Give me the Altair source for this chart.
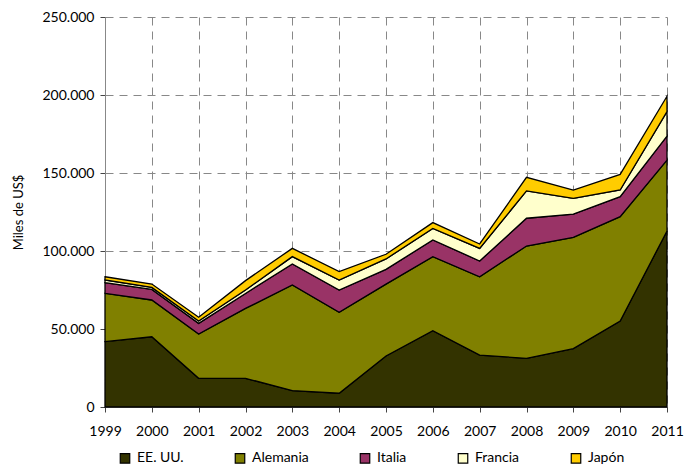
import altair as alt
import pandas as pd

years = list(range(1999, 2012))
series = ["EE. UU.", "Alemania", "Italia", "Francia", "Japón"]
colors = ["#333300", "#808000", "#993366", "#FFFFCC", "#FFCC00"]

ee_uu = [41900, 45000, 18400, 18400, 10500, 8800, 32700, 48900, 33300, 31200, 37400, 55100, 112800]
alemania = [31000, 23600, 28400, 44800, 67700, 51900, 46100, 47500, 50200, 72000, 71400, 66900, 45500]
italia = [6800, 6800, 6800, 9600, 13500, 14300, 9400, 10700, 10100, 17800, 14900, 12800, 15400]
francia = [1700, 1300, 1500, 2200, 4700, 6400, 6700, 7400, 8100, 17500, 10000, 4300, 15600]
japon = [2100, 2100, 2400, 6000, 5300, 5400, 3000, 3700, 2800, 8700, 5400, 10000, 9900]

values = [ee_uu, alemania, italia, francia, japon]
rows = []
for i, (name, vals) in enumerate(zip(series, values)):
    for y, v in zip(years, vals):
        rows.append({"year": y, "pais": name, "valor": v, "orden": i})
df = pd.DataFrame(rows)

FONT = "Lato"

chart = alt.Chart(df).mark_area(stroke="black", strokeWidth=1.3).encode(
    x=alt.X("year:Q",
            scale=alt.Scale(domain=[1999, 2011], nice=False, zero=False),
            axis=alt.Axis(values=years, format="d", title=None, labelPadding=12,
                          labelOverlap=False, labelFlush=False,
                          tickSize=5, labelFontSize=14, labelFont=FONT, labelColor="#000",
                          grid=True, gridDash=[8, 6], gridColor="#888", domainColor="#888",
                          tickColor="#444")),
    y=alt.Y("valor:Q", stack="zero",
            scale=alt.Scale(domain=[0, 250000], nice=False),
            axis=alt.Axis(values=[0, 50000, 100000, 150000, 200000, 250000],
                          labelExpr="replace(format(datum.value, ','), /,/g, '.')",
                          title="Miles de US$", titleFont=FONT, titleFontSize=13,
                          titleFontWeight="normal", titleColor="#000", titlePadding=16,
                          labelFontSize=14, labelFont=FONT, labelColor="#000", labelPadding=6,
                          labelOverlap=False, labelFlush=False,
                          tickSize=5, grid=True, gridDash=[8, 6], gridColor="#888",
                          domainColor="#888", tickColor="#444")),
    color=alt.Color("pais:N", scale=alt.Scale(domain=series, range=colors),
                    legend=alt.Legend(title=None, orient="none", direction="horizontal",
                                      legendX=13, legendY=434, symbolType="square",
                                      symbolSize=90, symbolStrokeColor="black",
                                      symbolStrokeWidth=1.2, labelFontSize=14,
                                      labelFont=FONT, labelColor="#000",
                                      columnPadding=48, labelOffset=5)),
    order=alt.Order("orden:Q", sort="ascending"),
).properties(
    width=562, height=390,
    autosize=alt.AutoSizeParams(type="none"),
    padding={"left": 97, "top": 9, "right": 21, "bottom": 58},
).configure_view(stroke=None).configure_axis(gridOpacity=1)

chart.save("out.html", embed_options={"renderer": "svg", "actions": False})
